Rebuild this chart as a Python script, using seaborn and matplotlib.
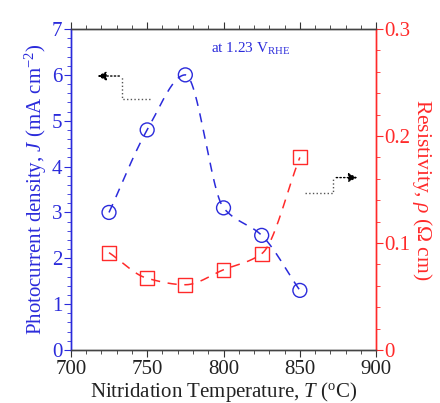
import numpy as np
import pandas as pd
import matplotlib
matplotlib.use("Agg")
import matplotlib.pyplot as plt
import seaborn as sns
from matplotlib.ticker import MultipleLocator

sns.set_style("ticks")
plt.rcParams['font.family'] = ['Liberation Serif', 'DejaVu Serif']
plt.rcParams['mathtext.fontset'] = 'custom'
plt.rcParams['mathtext.rm'] = 'Liberation Serif'
plt.rcParams['mathtext.it'] = 'Liberation Serif:italic'

temperature = [725, 750, 775, 800, 825, 850]
photocurrent = [3.0, 4.8, 6.0, 3.1, 2.5, 1.3]
resistivity = [0.091, 0.067, 0.061, 0.075, 0.090, 0.180]

BLUE = '#2b2bdb'
RED = '#ff2a2a'


def pchip(x, y, n=300):
    """Shape-preserving cubic Hermite curve through the data points."""
    x = np.asarray(x, float); y = np.asarray(y, float)
    h = np.diff(x); delta = np.diff(y) / h
    m = np.zeros_like(y)
    for i in range(1, len(x) - 1):
        if delta[i - 1] * delta[i] > 0:
            w1 = 2 * h[i] + h[i - 1]; w2 = h[i] + 2 * h[i - 1]
            m[i] = (w1 + w2) / (w1 / delta[i - 1] + w2 / delta[i])
    m[0] = delta[0]; m[-1] = delta[-1]
    xs = np.linspace(x[0], x[-1], n)
    ys = np.empty_like(xs)
    for k, xv in enumerate(xs):
        i = min(np.searchsorted(x, xv, side='right') - 1, len(x) - 2)
        t = (xv - x[i]) / h[i]
        h00 = 2 * t**3 - 3 * t**2 + 1; h10 = t**3 - 2 * t**2 + t
        h01 = -2 * t**3 + 3 * t**2; h11 = t**3 - t**2
        ys[k] = h00 * y[i] + h10 * h[i] * m[i] + h01 * y[i + 1] + h11 * h[i] * m[i + 1]
    return xs, ys


fig = plt.figure(figsize=(4.4, 4.03), dpi=100)
ax = fig.add_axes([0.161, 0.1315, 0.694, 0.7965])
ax2 = ax.twinx()

xs, ys = pchip(temperature, photocurrent)
sns.lineplot(x=xs, y=ys, ax=ax, color=BLUE, lw=1.1, linestyle=(0, (6, 5)))
sns.scatterplot(x=temperature, y=photocurrent, ax=ax, marker='o', s=100,
                facecolor='none', edgecolor=BLUE, linewidth=1.0, zorder=5)

xs2, ys2 = pchip(temperature, resistivity)
sns.lineplot(x=xs2, y=ys2, ax=ax2, color=RED, lw=1.1, linestyle=(0, (6, 5)))
sns.scatterplot(x=temperature, y=resistivity, ax=ax2, marker='s', s=100,
                facecolor='none', edgecolor=RED, linewidth=1.0, zorder=5)

ax.set_xlim(700, 900)
ax.set_ylim(0, 7)
ax2.set_ylim(0, 0.3)
ax.xaxis.set_major_locator(MultipleLocator(50))
ax.xaxis.set_minor_locator(MultipleLocator(10))
ax.yaxis.set_major_locator(MultipleLocator(1))
ax.yaxis.set_minor_locator(MultipleLocator(0.2))
ax2.yaxis.set_minor_locator(MultipleLocator(0.02))
ax2.set_yticks([0, 0.1, 0.2, 0.3])
ax2.set_yticklabels(['0', '0.1', '0.2', '0.3'])

ax.xaxis.set_ticks_position('both')
ax.tick_params(axis='x', which='both', top=True, direction='out', colors='#333333', labelcolor='#222222', labelsize=15, pad=2)
ax.tick_params(axis='x', which='major', length=5)
ax.tick_params(axis='x', which='minor', length=3)
ax.tick_params(axis='y', which='both', colors=BLUE, labelsize=15, pad=1)
ax.tick_params(axis='y', which='major', length=5)
ax.tick_params(axis='y', which='minor', length=3)
ax2.tick_params(axis='y', which='both', colors=RED, labelsize=15, pad=1)
ax2.tick_params(axis='y', which='major', length=5)
ax2.tick_params(axis='y', which='minor', length=3)

for s in ['top', 'bottom']:
    ax.spines[s].set_color('#444444')
    ax2.spines[s].set_color('#444444')
ax.spines['left'].set_color(BLUE)
ax2.spines['left'].set_color(BLUE)
ax2.spines['right'].set_color(RED)
ax.spines['right'].set_color(RED)
for a in (ax, ax2):
    for s in a.spines.values():
        s.set_linewidth(1.0)

ax.set_xlabel(r'Nitridation Temperature, $\mathit{T}$ ($^{\rm o}$C)', fontsize=15, color='#222222', labelpad=1)
ax.set_ylabel(r'Photocurrent density, $\mathit{J}$ (mA cm$^{-2}$)', fontsize=15, color=BLUE, labelpad=2)
ax2.set_ylabel(r'Resistivity, $\mathit{\rho}$ ($\Omega$ cm)', fontsize=15.5, color=RED, rotation=270, labelpad=17)

ax.text(818, 6.56, r'at 1.23 V$_{\rm RHE}$', color=BLUE, fontsize=11, ha='center', va='center')

# direction arrows
ax.plot([752, 733.6, 733.6], [5.47, 5.47, 5.975], color='#555555', lw=1, ls=':')
ax.annotate('', xy=(715.5, 5.975), xytext=(733.6, 5.975),
            arrowprops=dict(arrowstyle='-|>', color='black', lw=1, ls=':', mutation_scale=13))
ax.plot([853.4, 872, 872], [3.42, 3.42, 3.76], color='#555555', lw=1, ls=':')
ax.annotate('', xy=(889.5, 3.76), xytext=(872, 3.76),
            arrowprops=dict(arrowstyle='-|>', color='black', lw=1, ls=':', mutation_scale=13))

fig.savefig('out.png', dpi=100)
